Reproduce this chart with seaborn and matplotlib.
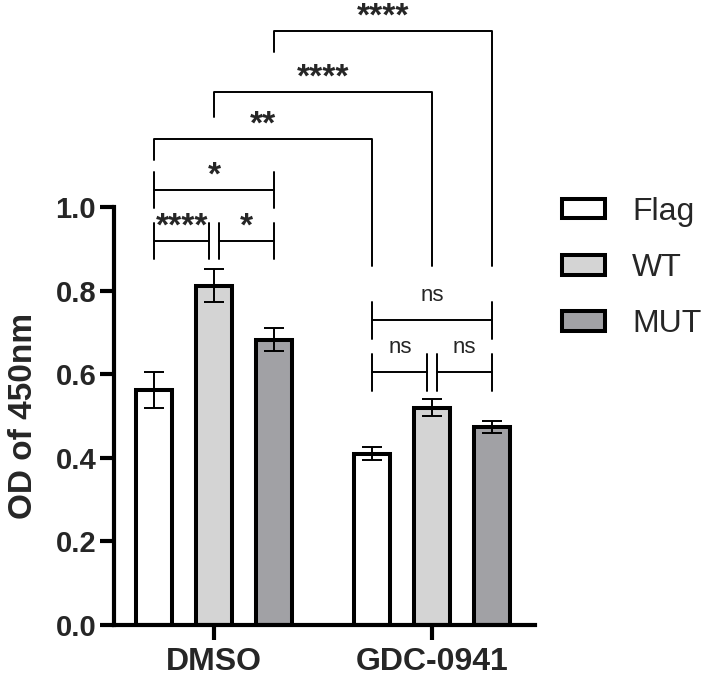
import numpy as np
import pandas as pd
import seaborn as sns
import matplotlib.pyplot as plt
from matplotlib.ticker import FormatStrFormatter

# data
treatments = ["DMSO", "GDC-0941"]
genotypes = ["Flag", "WT", "MUT"]
means = {"Flag": [0.562, 0.410], "WT": [0.812, 0.520], "MUT": [0.683, 0.473]}
errs = {"Flag": [0.043, 0.016], "WT": [0.039, 0.021], "MUT": [0.027, 0.014]}
colors = {"Flag": "#ffffff", "WT": "#d4d4d4", "MUT": "#a1a1a5"}

# brackets: (group, genotype a, group, genotype b, line y, left drop, right drop, label)
long_brackets = [
    (0, "Flag", 1, "Flag", 1.164, 1.113, 0.858, "**"),
    (0, "WT", 1, "WT", 1.276, 1.216, 0.858, "****"),
    (0, "MUT", 1, "MUT", 1.422, 1.372, 0.860, "****"),
]
# H-style brackets: (group, a, b, line y, half height, label, shift a, shift b)
short_brackets = [
    (0, "Flag", "WT", 0.920, 0.043, "****", 0, -1),
    (0, "WT", "MUT", 0.920, 0.043, "*", 1, 0),
    (0, "Flag", "MUT", 1.042, 0.043, "*", 0, 0),
    (1, "Flag", "WT", 0.605, 0.044, "ns", 0, -1),
    (1, "WT", "MUT", 0.605, 0.044, "ns", 1, 0),
    (1, "Flag", "MUT", 0.729, 0.044, "ns", 0, 0),
]

rows = []
for g in genotypes:
    for t, m, e in zip(treatments, means[g], errs[g]):
        rows.append({"treatment": t, "genotype": g, "od": m, "err": e})
df = pd.DataFrame(rows)

sns.set_style("ticks")
plt.rcParams["font.family"] = ["Liberation Sans", "DejaVu Sans"]

fig = plt.figure(figsize=(7.05, 6.77), dpi=100)
ax = fig.add_axes([0.162, 0.077, 0.597, 0.617])

sns.barplot(data=df, x="treatment", y="od", hue="genotype", order=treatments,
            hue_order=genotypes, palette=colors, errorbar=None, width=0.826,
            gap=0.4, edgecolor="black", linewidth=2.9, legend=True, ax=ax)

# bar centres from the drawn patches
centres = {}
for g, cont in zip(genotypes, ax.containers):
    for i, (bar, t) in enumerate(zip(cont, treatments)):
        cx = bar.get_x() + bar.get_width() / 2
        centres[(i, g)] = cx
        e = df.loc[(df.genotype == g) & (df.treatment == t), "err"].values[0]
        ax.errorbar(cx, bar.get_height(), yerr=e, color="black", lw=1.4,
                    capsize=7, capthick=1.4, zorder=5)

lw = 1.4
star_off = 0.012
for ga, a, gb, b, y, ldrop, rdrop, lab in long_brackets:
    x1, x2 = centres[(ga, a)], centres[(gb, b)]
    ax.plot([x1, x1, x2, x2], [ldrop, y, y, rdrop], color="black", lw=lw, clip_on=False)
    ax.text((x1 + x2) / 2, y + star_off, lab, ha="center", va="baseline",
            fontsize=24, fontweight="bold", clip_on=False)

off = 0.022
for grp, a, b, y, h, lab, sa, sb in short_brackets:
    x1 = centres[(grp, a)] + sa * off
    x2 = centres[(grp, b)] + sb * off
    ax.plot([x1, x2], [y, y], color="black", lw=lw, clip_on=False)
    ax.plot([x1, x1], [y - h, y + h], color="black", lw=lw, clip_on=False)
    ax.plot([x2, x2], [y - h, y + h], color="black", lw=lw, clip_on=False)
    if lab == "ns":
        ax.text((x1 + x2) / 2, y + 0.06, lab, ha="center", va="center",
                fontsize=16)
    else:
        ax.text((x1 + x2) / 2, y + star_off, lab, ha="center", va="baseline",
                fontsize=24, fontweight="bold")

ax.set_ylim(0, 1.0)
ax.set_xlim(-0.459, 1.472)
ax.set_yticks(np.arange(0, 1.01, 0.2))
ax.yaxis.set_major_formatter(FormatStrFormatter("%.1f"))
ax.set_xlabel("")
ax.set_ylabel("OD of 450nm", fontsize=24, fontweight="bold", labelpad=12)
for lab in ax.get_xticklabels() + ax.get_yticklabels():
    lab.set_fontweight("bold")
ax.tick_params(axis="y", labelsize=21, width=3, length=10, color="black", pad=3)
ax.tick_params(axis="x", labelsize=23, width=3, length=11, color="black", pad=5)
sns.despine(ax=ax)
for sp in ["left", "bottom"]:
    ax.spines[sp].set_linewidth(3)
    ax.spines[sp].set_color("black")

leg = ax.legend(loc="upper left", bbox_to_anchor=(0.797, 0.709),
                bbox_transform=fig.transFigure, frameon=False, fontsize=23,
                handlelength=1.35, handleheight=0.55, handletextpad=0.85,
                labelspacing=0.82, borderpad=0, borderaxespad=0)
for h in leg.legend_handles:
    h.set_linewidth(2.9)
    h.set_edgecolor("black")

plt.savefig("out.png", dpi=100)
